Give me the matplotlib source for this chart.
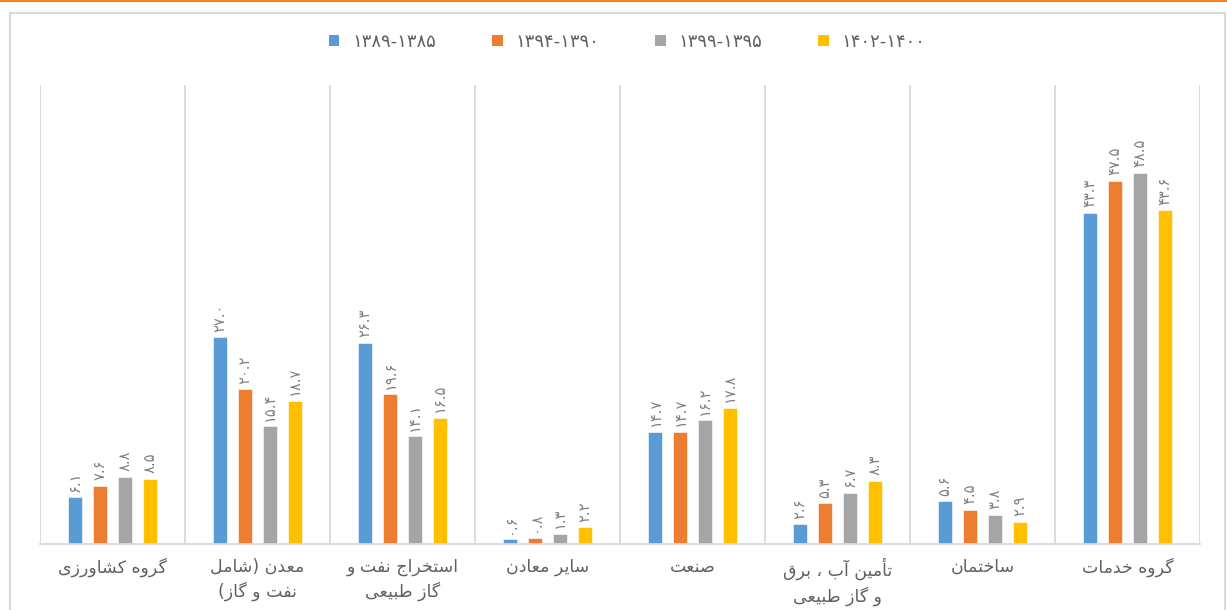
import matplotlib
matplotlib.use("Agg")
import matplotlib.pyplot as plt
import numpy as np
from matplotlib.patches import Rectangle
from matplotlib.lines import Line2D

categories = [
    "گروه کشاورزی",
    "معدن (شامل\nنفت و گاز)",
    "استخراج نفت و\nگاز طبیعی",
    "سایر معادن",
    "صنعت",
    "تأمین آب ، برق\nو گاز طبیعی",
    "ساختمان",
    "گروه خدمات",
]
series_names = ["۱۳۸۹-۱۳۸۵", "۱۳۹۴-۱۳۹۰", "۱۳۹۹-۱۳۹۵", "۱۴۰۲-۱۴۰۰"]
s1 = [6.1, 27.0, 26.3, 0.6, 14.7, 2.6, 5.6, 43.3]
s2 = [7.6, 20.2, 19.6, 0.8, 14.7, 5.3, 4.5, 47.5]
s3 = [8.8, 15.4, 14.1, 1.3, 16.2, 6.7, 3.8, 48.5]
s4 = [8.5, 18.7, 16.5, 2.2, 17.8, 8.3, 2.9, 43.6]
series = [s1, s2, s3, s4]
colors = ["#5B9BD5", "#ED7D31", "#A5A5A5", "#FFC000"]

# --- minimal Arabic/Persian shaping (matplotlib has no complex text layout) ---
FORMS = {
    'ا': ('\uFE8D', '\uFE8E', None, None),
    'آ': ('\uFE81', '\uFE82', None, None),
    'أ': ('\uFE83', '\uFE84', None, None),
    'ب': ('\uFE8F', '\uFE90', '\uFE91', '\uFE92'),
    'ت': ('\uFE95', '\uFE96', '\uFE97', '\uFE98'),
    'ج': ('\uFE9D', '\uFE9E', '\uFE9F', '\uFEA0'),
    'خ': ('\uFEA5', '\uFEA6', '\uFEA7', '\uFEA8'),
    'د': ('\uFEA9', '\uFEAA', None, None),
    'ر': ('\uFEAD', '\uFEAE', None, None),
    'ز': ('\uFEAF', '\uFEB0', None, None),
    'س': ('\uFEB1', '\uFEB2', '\uFEB3', '\uFEB4'),
    'ش': ('\uFEB5', '\uFEB6', '\uFEB7', '\uFEB8'),
    'ص': ('\uFEB9', '\uFEBA', '\uFEBB', '\uFEBC'),
    'ط': ('\uFEC1', '\uFEC2', '\uFEC3', '\uFEC4'),
    'ع': ('\uFEC9', '\uFECA', '\uFECB', '\uFECC'),
    'ف': ('\uFED1', '\uFED2', '\uFED3', '\uFED4'),
    'ق': ('\uFED5', '\uFED6', '\uFED7', '\uFED8'),
    'ل': ('\uFEDD', '\uFEDE', '\uFEDF', '\uFEE0'),
    'م': ('\uFEE1', '\uFEE2', '\uFEE3', '\uFEE4'),
    'ن': ('\uFEE5', '\uFEE6', '\uFEE7', '\uFEE8'),
    'ه': ('\uFEE9', '\uFEEA', '\uFEEB', '\uFEEC'),
    'و': ('\uFEED', '\uFEEE', None, None),
    'ی': ('\uFBFC', '\uFBFD', '\uFBFE', '\uFBFF'),
    'ک': ('\uFB8E', '\uFB8F', '\uFB90', '\uFB91'),
    'گ': ('\uFB92', '\uFB93', '\uFB94', '\uFB95'),
}
MIRROR = {'(': ')', ')': '('}


def shape_line(text):
    out = []
    n = len(text)
    for i, ch in enumerate(text):
        if ch not in FORMS:
            out.append(ch)
            continue
        iso, fin, ini, med = FORMS[ch]
        prev = text[i - 1] if i > 0 else None
        nxt = text[i + 1] if i < n - 1 else None
        jp = prev in FORMS and FORMS[prev][2] is not None
        jn = ini is not None and nxt in FORMS
        if jp and jn:
            out.append(med)
        elif jp:
            out.append(fin)
        elif jn:
            out.append(ini)
        else:
            out.append(iso)
    return ''.join(MIRROR.get(g, g) for g in reversed(out))


def rtl(text):
    return "\n".join(shape_line(l) for l in text.split("\n"))


PDIG = str.maketrans("0123456789", "۰۱۲۳۴۵۶۷۸۹")


def pnum(v):
    return f"{v:.1f}".translate(PDIG)


plt.rcParams['font.family'] = ['DejaVu Sans']

W, H = 1227, 610
fig = plt.figure(figsize=(W / 100, H / 100), dpi=100)
ax = fig.add_axes([40 / W, 1 - 544 / H, (1200 - 40) / W, (544 - 85) / H])

x = np.arange(len(categories))
bw = 0.093
step = 0.172
for i, (vals, c, name) in enumerate(zip(series, colors, series_names)):
    pos = x + (i - 1.5) * step
    ax.bar(pos, vals, width=bw, color=c, edgecolor="white", linewidth=0.4,
           label=name, zorder=3)
    for p, v in zip(pos, vals):
        ax.annotate(pnum(v), (p, v), xytext=(0, 4), textcoords="offset points",
                    rotation=90, ha="center", va="bottom", fontsize=10.5,
                    color="#808080")

ax.set_xlim(-0.5, len(categories) - 0.5)
ax.set_ylim(0, 60)
ax.set_yticks([])
ax.set_xticks(x)
ax.set_xticklabels([rtl(c) for c in categories], fontsize=12.5, color="#606060",
                   linespacing=1.4)
ax.tick_params(axis="x", length=0, pad=10)
ax.set_xticks(np.arange(-0.5, len(categories)), minor=True)
ax.tick_params(axis="x", which="minor", length=0)
ax.grid(which="minor", axis="x", color="#D9D9D9", linewidth=1.3, zorder=0)
for s in ["top", "right", "left"]:
    ax.spines[s].set_visible(False)
ax.spines["bottom"].set_color("#D9D9D9")
ax.spines["bottom"].set_linewidth(1.3)
ax.spines["bottom"].set_zorder(4)

leg = fig.legend(loc="center", bbox_to_anchor=(0.511, 1 - 42 / H), ncol=4,
                 frameon=False, fontsize=13, handlelength=0.6, handleheight=0.6,
                 handletextpad=0.7, columnspacing=3.1)
for t in leg.get_texts():
    t.set_color("#606060")
for h in leg.legend_handles:
    h.set_edgecolor("none")

fig.patches.append(Rectangle((10 / W, -0.05), (1225 - 10) / W, 1.05 - 13 / H,
                             transform=fig.transFigure, fill=False,
                             edgecolor="#D9D9D9", linewidth=1.5))
fig.lines.append(Line2D([0, 1], [1 - 0.8 / H, 1 - 0.8 / H], transform=fig.transFigure,
                        color="#F58220", linewidth=1.5))

fig.savefig("out.png", dpi=100)
